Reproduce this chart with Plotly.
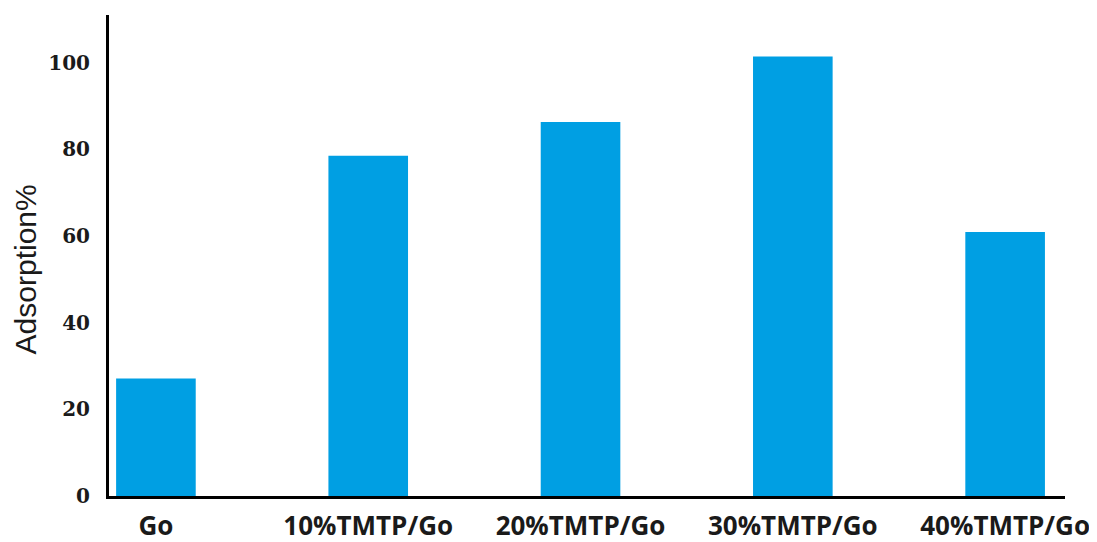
import plotly.graph_objects as go

categories = ["Go", "10%TMTP/Go", "20%TMTP/Go", "30%TMTP/Go", "40%TMTP/Go"]
adsorption = [27.1, 78.5, 86.3, 101.4, 60.9]
y_ticks = [0, 20, 40, 60, 80, 100]
y_title = "Adsorption%"

fig = go.Figure(
    go.Bar(
        x=categories,
        y=adsorption,
        marker=dict(color="#009FE3", line=dict(width=0)),
        width=0.375,
    )
)

# the page body adds an 8px offset, so the figure is sized to fit the window
fig.update_layout(
    width=1089,
    height=534,
    margin=dict(l=101, r=32, t=7, b=46),
    plot_bgcolor="white",
    paper_bgcolor="white",
    showlegend=False,
    annotations=[
        dict(
            text=y_title,
            xref="paper",
            yref="paper",
            x=-0.0879,
            y=0.471,
            xanchor="center",
            yanchor="middle",
            textangle=-90,
            showarrow=False,
            font=dict(family="Liberation Sans", size=30, color="#1a1a1a"),
        )
    ],
)

fig.update_xaxes(
    type="category",
    range=[-0.221, 4.282],
    showline=True,
    linecolor="black",
    linewidth=3,
    showgrid=False,
    ticks="",
    automargin=False,
    tickfont=dict(family="Open Sans", size=26, color="#1a1a1a", weight="bold"),
    ticklabelstandoff=5,
)

fig.update_yaxes(
    range=[0, 111],
    tickvals=y_ticks,
    ticktext=[str(v) for v in y_ticks],
    showline=True,
    linecolor="black",
    linewidth=3,
    showgrid=False,
    zeroline=False,
    ticks="",
    automargin=False,
    tickfont=dict(family="DejaVu Serif", size=20, color="#1a1a1a", weight="bold"),
    ticklabelstandoff=12,
)

fig.write_html("out.html")
